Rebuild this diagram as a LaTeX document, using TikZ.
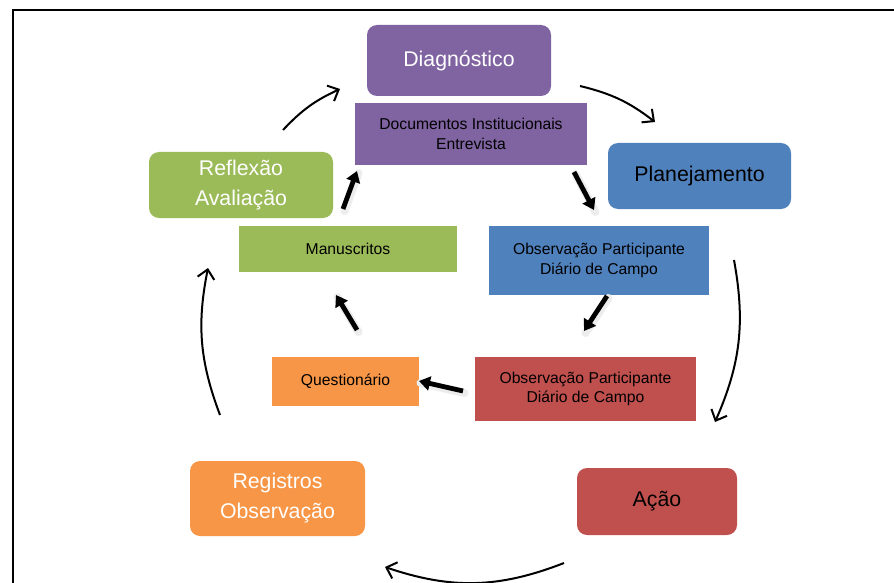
\documentclass[tikz,border=0pt]{standalone}
\usepackage{fontspec}
\setmainfont{Liberation Sans}
\usetikzlibrary{arrows.meta}
\definecolor{cpurple}{HTML}{8064A2}
\definecolor{cblue}{HTML}{4F81BD}
\definecolor{cgreen}{HTML}{9BBB59}
\definecolor{corange}{HTML}{F79646}
\definecolor{cred}{HTML}{C0504D}
\tikzset{
  bigbox/.style={rounded corners=10pt, inner sep=0pt, align=center,
    font=\fontsize{21.3}{30}\selectfont},
  smallbox/.style={inner sep=0pt, align=center, text=black,
    font=\fontsize{15.7}{19.5}\selectfont},
  cyclearrow/.style={line width=2pt, -{Straight Barb[length=9pt,width=17pt]}},
  flowarrow/.style={line width=4.8pt, -{Triangle[length=11pt,width=14pt]}},
  flowshadow/.style={line width=8pt, black!7, line cap=round},
}
\begin{document}
\begin{tikzpicture}[x=1pt,y=-1pt]
\useasboundingbox (0,0) rectangle (894,583);
\fill[white] (0,0) rectangle (894,583);
\draw[line width=2pt] (13,590) -- (13,10) -- (900,10);

% main cycle nodes
\node[bigbox, fill=cpurple, text=white, minimum width=184pt, minimum height=71pt] (diag) at (459,60.5) {Diagnóstico};
\node[bigbox, fill=cblue, text=black, minimum width=183pt, minimum height=66pt] (plan) at (699.5,176) {Planejamento};
\node[bigbox, fill=cred, text=black, minimum width=160pt, minimum height=67pt] (acao) at (657,501.5) {Ação};
\node[bigbox, fill=corange, text=white, minimum width=175pt, minimum height=75pt] (regis) at (277.5,498.5) {Registros\\Observação};
\node[bigbox, fill=cgreen, text=white, minimum width=184pt, minimum height=66pt] (refl) at (241,185) {Reflexão\\Avaliação};

% inner nodes
\node[smallbox, fill=cpurple, minimum width=232pt, minimum height=62pt] (docs) at (471,134) {Documentos Institucionais\\Entrevista};
\node[smallbox, fill=cblue, minimum width=220pt, minimum height=69pt] (obsb) at (599,260.5) {Observação Participante\\Diário de Campo};
\node[smallbox, fill=cred, minimum width=221pt, minimum height=64pt] (obsr) at (585.5,389) {Observação Participante\\Diário de Campo};
\node[smallbox, fill=corange, minimum width=147pt, minimum height=49pt] (quest) at (345.5,381.5) {Questionário};
\node[smallbox, fill=cgreen, minimum width=218pt, minimum height=46pt] (manu) at (348,249) {Manuscritos};

% cycle arrow endpoints
\coordinate (a1s) at (283,130); \coordinate (a1e) at (340,89);
\coordinate (a2s) at (580,86);  \coordinate (a2e) at (655,122);
\coordinate (a3s) at (734,260); \coordinate (a3e) at (715,422);
\coordinate (a4s) at (564,563); \coordinate (a4e) at (385,567);
\coordinate (a5s) at (220,415); \coordinate (a5e) at (208,268);

\draw[cyclearrow] (a1s) to[bend left=11] (a1e);
\draw[cyclearrow] (a2s) to[bend left=12] (a2e);
\draw[cyclearrow] (a3s) to[bend left=17] (a3e);
\draw[cyclearrow] (a4s) to[bend left=20] (a4e);
\draw[cyclearrow] (a5s) to[bend left=16] (a5e);

% inner flow arrows
\coordinate (f1s) at (574,172); \coordinate (f1e) at (594,210);
\coordinate (f2s) at (607,296); \coordinate (f2e) at (584,331);
\coordinate (f3s) at (463,391); \coordinate (f3e) at (419,381);
\coordinate (f4s) at (357,330); \coordinate (f4e) at (336,295);
\coordinate (f5s) at (343,209); \coordinate (f5e) at (357,171);

\foreach \s/\e in {f1s/f1e,f2s/f2e,f3s/f3e,f4s/f4e,f5s/f5e}{
  \draw[flowshadow] ([shift={(1.5,2)}]\s) -- ([shift={(1.5,2)}]\e);
}
\draw[flowarrow] (f1s) -- (f1e);
\draw[flowarrow] (f2s) -- (f2e);
\draw[flowarrow] (f3s) -- (f3e);
\draw[flowarrow] (f4s) -- (f4e);
\draw[flowarrow] (f5s) -- (f5e);
\end{tikzpicture}
\end{document}
